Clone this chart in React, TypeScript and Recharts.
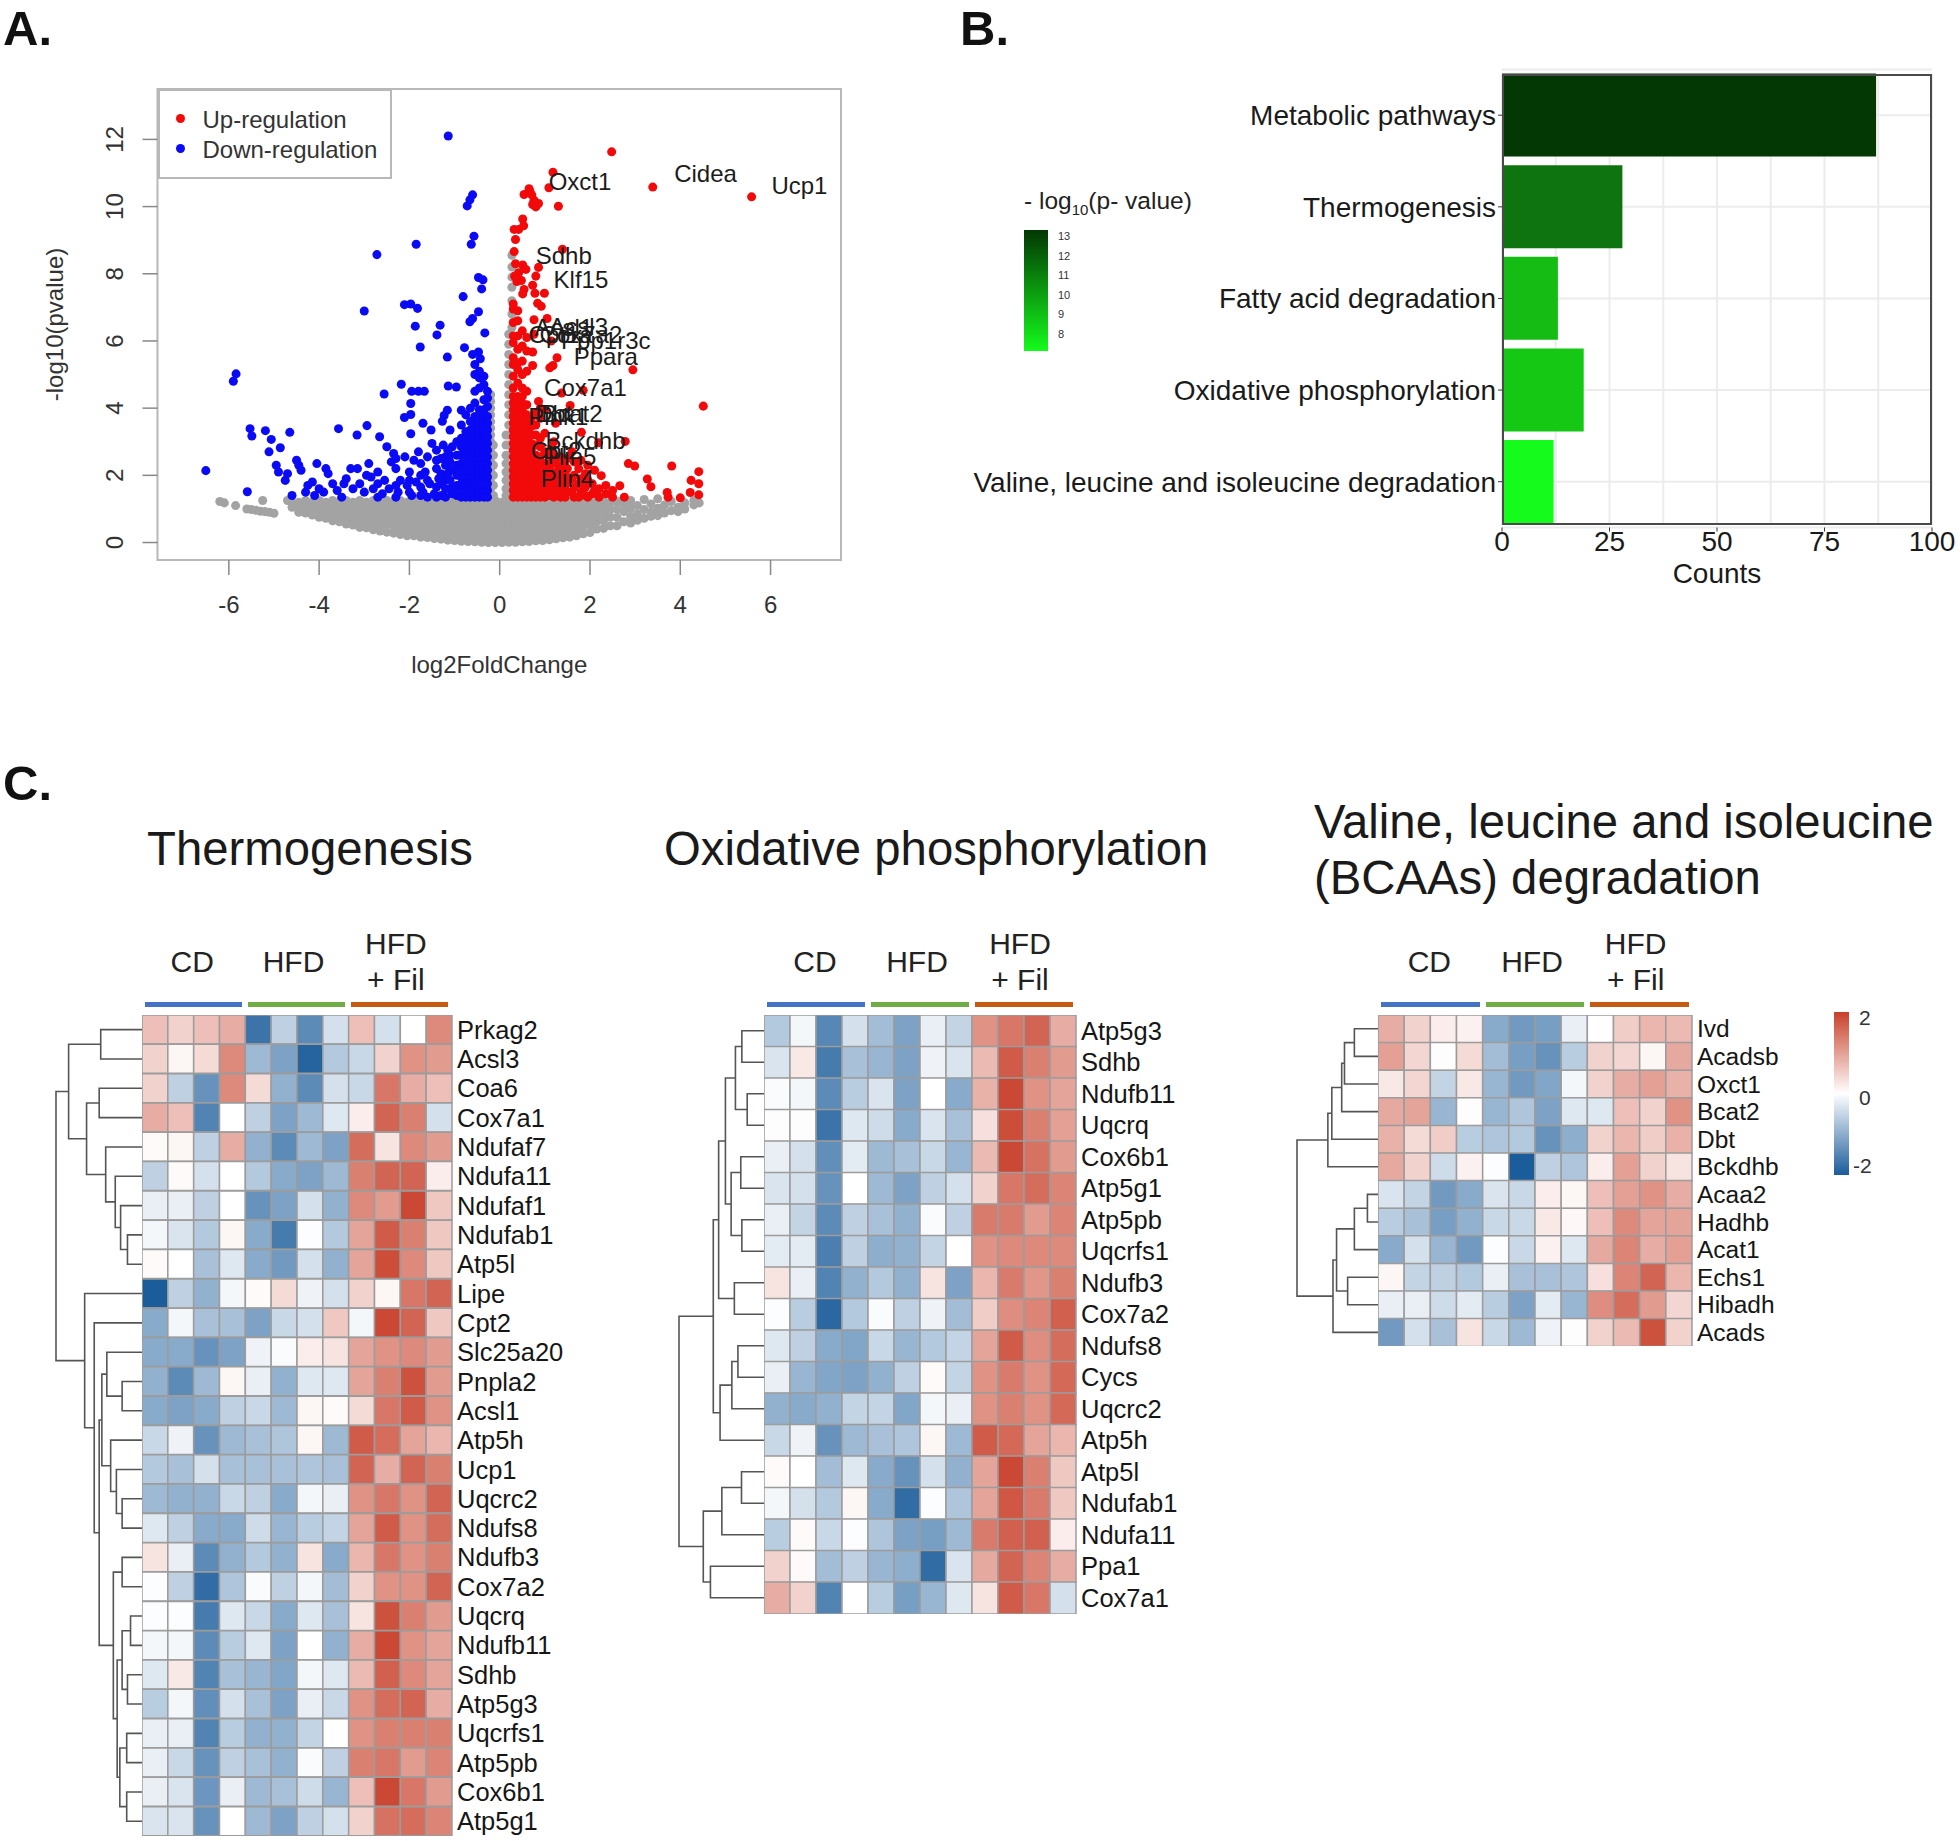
import {
  Bar,
  BarChart,
  CartesianGrid,
  Cell,
  ReferenceArea,
  Scatter,
  ScatterChart,
  XAxis,
  YAxis,
  ZAxis,
} from 'recharts'

const FONT = '"Liberation Sans", Arial, sans-serif'

// ---- A. volcano, values: each column is [x, y, y, y...]
const greyColumns = [
  [-6.2, 1.22], [-6.1, 1.18], [-5.85, 1.1], [-5.6, 1.0], [-5.5, 0.98], [-5.4, 0.96], [-5.3, 0.93], [-5.25, 1.25], [-5.2, 0.92],
  [-5.1, 0.9], [-5.0, 0.87], [-4.7, 1.25],
  [-4.6, 1.2, 1.05], [-4.45, 1.2, 1.0, 0.9], [-4.3, 1.25, 1.05, 0.88], [-4.15, 1.2, 1.02, 0.82], [-4.0, 1.25, 1.08, 0.9, 0.75],
  [-3.85, 1.2, 1.0, 0.8, 0.72], [-3.7, 1.25, 1.08, 0.9, 0.72, 0.65], [-3.55, 1.2, 1.0, 0.82, 0.62], [-3.4, 1.25, 1.08, 0.9, 0.72, 0.55],
  [-3.25, 1.2, 1.02, 0.84, 0.66, 0.52], [-3.1, 1.25, 1.07, 0.9, 0.72, 0.55, 0.45], [-2.95, 1.2, 1.0, 0.82, 0.64, 0.44],
  [-2.8, 1.25, 1.08, 0.9, 0.72, 0.54, 0.38], [-2.65, 1.2, 1.02, 0.84, 0.66, 0.48, 0.34], [-2.5, 1.25, 1.07, 0.89, 0.71, 0.53, 0.31],
  [-2.35, 1.2, 1.02, 0.84, 0.66, 0.48, 0.28], [-2.2, 1.25, 1.06, 0.88, 0.7, 0.52, 0.36, 0.24], [-2.05, 1.2, 1.02, 0.84, 0.66, 0.48, 0.32, 0.2],
  [-1.9, 1.26, 1.08, 0.9, 0.72, 0.54, 0.36, 0.2], [-1.75, 1.2, 1.02, 0.84, 0.66, 0.48, 0.3, 0.16], [-1.6, 1.25, 1.07, 0.89, 0.71, 0.53, 0.35, 0.15],
  [-1.45, 1.2, 1.02, 0.84, 0.66, 0.48, 0.3, 0.12], [-1.3, 1.26, 1.08, 0.9, 0.72, 0.54, 0.36, 0.22, 0.1], [-1.15, 1.2, 1.02, 0.84, 0.66, 0.48, 0.3, 0.16, 0.07],
  [-1.0, 1.25, 1.07, 0.89, 0.71, 0.53, 0.35, 0.19, 0.06], [-0.85, 1.2, 1.02, 0.84, 0.66, 0.48, 0.3, 0.14, 0.04],
  [-0.7, 1.25, 1.07, 0.89, 0.71, 0.53, 0.35, 0.17, 0.03], [-0.55, 1.2, 1.02, 0.84, 0.66, 0.48, 0.3, 0.13, 0.02],
  [-0.4, 1.25, 1.07, 0.89, 0.71, 0.53, 0.35, 0.17, 0.01], [-0.25, 1.2, 1.02, 0.84, 0.66, 0.48, 0.3, 0.12, 0.0],
  [-0.1, 1.25, 1.07, 0.89, 0.71, 0.53, 0.35, 0.17, 0.0], [0.05, 1.2, 1.02, 0.84, 0.66, 0.48, 0.3, 0.12, 0.0],
  [0.2, 1.25, 1.07, 0.89, 0.71, 0.53, 0.35, 0.17, 0.01], [0.35, 1.2, 1.02, 0.84, 0.66, 0.48, 0.3, 0.12, 0.01],
  [0.5, 1.25, 1.07, 0.89, 0.71, 0.53, 0.35, 0.17, 0.02], [0.65, 1.2, 1.02, 0.84, 0.66, 0.48, 0.3, 0.12, 0.03],
  [0.8, 1.25, 1.07, 0.89, 0.71, 0.53, 0.35, 0.17, 0.05], [0.95, 1.2, 1.02, 0.84, 0.66, 0.48, 0.3, 0.13, 0.06],
  [1.1, 1.25, 1.07, 0.89, 0.71, 0.53, 0.35, 0.18, 0.08], [1.25, 1.2, 1.02, 0.84, 0.66, 0.48, 0.3, 0.11], [1.4, 1.25, 1.07, 0.89, 0.71, 0.53, 0.35, 0.14],
  [1.55, 1.2, 1.02, 0.84, 0.66, 0.48, 0.3, 0.16], [1.7, 1.25, 1.07, 0.89, 0.71, 0.53, 0.35, 0.2], [1.85, 1.2, 1.02, 0.84, 0.66, 0.48, 0.26],
  [2.0, 1.25, 1.07, 0.89, 0.71, 0.53, 0.3], [2.15, 1.2, 1.0, 0.82, 0.62, 0.4], [2.3, 1.25, 1.05, 0.85, 0.65, 0.42], [2.45, 1.18, 0.98, 0.76, 0.5],
  [2.6, 1.22, 1.0, 0.75, 0.5], [2.75, 1.15, 0.92, 0.62], [2.9, 1.25, 1.02, 0.78, 0.58], [3.05, 1.1, 0.85, 0.66], [3.2, 1.28, 0.98, 0.72],
  [3.35, 1.15, 0.9, 0.78], [3.5, 1.3, 1.02, 0.8], [3.65, 1.12, 0.88], [3.8, 1.22, 0.95], [3.95, 1.05, 0.92], [4.1, 1.18, 1.0], [4.3, 1.25, 1.12], [4.42, 1.18],
  [-0.2, 1.4, 1.6, 1.8, 2.0, 2.2, 2.4, 2.6, 2.8, 3.0, 3.2, 3.4, 3.6, 3.8, 4.0, 4.2, 4.4],
  [-0.14, 1.4, 1.7, 2.0, 2.3, 2.6, 2.9],
  [0.14, 1.4, 1.6, 1.85, 2.1, 2.35, 2.6, 2.9, 3.2],
  [0.2, 1.4, 1.7, 2.0, 2.3, 2.6, 2.9, 3.2, 3.5, 3.8, 4.1, 4.4, 4.7, 5.0, 5.3, 5.6, 5.9, 6.2],
  [0.27, 6.4, 6.8, 7.2, 7.6, 7.9, 8.2, 8.55],
]

const blueColumns = [
  [-2.7, 1.35, 1.75], [-2.3, 1.35, 1.7, 2.2], [-2.0, 1.5, 1.85], [-1.75, 1.4, 1.65, 2.0], [-1.6, 1.35, 1.85],
  [-1.4, 1.35, 1.65, 2.45, 2.75], [-1.3, 1.4, 1.75, 2.05], [-1.2, 1.35, 1.85, 2.3, 2.55], [-1.1, 1.6, 2.15, 2.6],
  [-0.95, 1.4, 1.7, 2.0, 2.3, 2.6, 3.0],
  [-0.85, 1.35, 1.55, 1.75, 1.95, 2.15, 2.35, 2.6, 2.85, 3.1, 3.5],
  [-0.75, 1.35, 1.55, 1.75, 1.95, 2.15, 2.35, 2.55, 2.75, 2.95, 3.15, 3.3, 3.8],
  [-0.65, 1.35, 1.55, 1.75, 1.95, 2.15, 2.35, 2.55, 2.75, 2.95, 3.15, 3.35, 3.6, 4.0],
  [-0.55, 1.35, 1.55, 1.75, 1.95, 2.15, 2.35, 2.55, 2.75, 2.95, 3.15, 3.35, 3.55, 3.75, 4.15, 4.5, 5.0, 5.3],
  [-0.45, 1.35, 1.55, 1.75, 1.95, 2.15, 2.35, 2.55, 2.75, 2.95, 3.15, 3.35, 3.55, 3.75, 3.95, 4.6, 4.9, 5.1],
  [-0.35, 1.35, 1.55, 1.75, 1.95, 2.15, 2.35, 2.55, 2.75, 2.95, 3.15, 3.35, 3.55, 3.75, 3.95, 4.25, 4.7, 4.95],
  [-0.27, 1.35, 1.55, 1.75, 1.95, 2.15, 2.35, 2.55, 2.75, 2.95, 3.15, 3.35, 3.55, 3.75, 4.05, 4.3, 4.5],
]
const blueX = [
  -1.14, -0.6, -0.66, -0.72, -0.57, -0.63, -1.85, -2.72, -0.47, -0.37, -0.4, -0.81, -2.11, -1.97, -1.82, -3.0, -0.47, -0.6, -0.66,
  -1.87, -1.32, -1.39, -0.33, -1.76, -0.78, -1.16, -0.6, -0.47, -0.43, -5.9, -5.84, -2.18, -2.56, -1.95, -1.8, -1.67, -1.14, -0.96,
  -1.97, -1.16, -0.85, -1.23, -1.97, -2.11, -1.7, -1.27, -3.57, -2.94, -3.16, -5.53, -5.49, -5.19, -4.65, -5.06, -4.86, -5.11, -2.66,
  -1.97, -1.52, -1.1, -6.51, -5.59,
  -4.95, -4.9, -4.7, -4.75, -4.6, -4.5, -4.45, -4.4, -4.3, -4.25, -4.15, -4.1, -4.0, -4.05, -3.9, -3.85, -3.8, -3.7, -3.6, -3.5, -3.4,
  -3.45, -3.3, -3.25, -3.15, -3.1, -3.0, -2.95, -2.9, -2.85, -2.8, -2.7, -2.6, -2.55, -2.5, -2.45, -2.4, -2.35, -2.3, -2.25, -2.2, -2.1,
  -2.05, -2.0, -1.95, -1.9, -1.85, -1.8, -1.75, -1.7, -1.65, -1.6, -1.55, -1.5, -1.45, -1.4, -1.35, -1.3, -1.25, -1.2, -1.15, -1.15,
  -1.1, -1.1, -1.05, -1.05, -1.0, -1.0,
]
const blueY = [
  12.1, 10.35, 10.2, 10.02, 9.12, 8.88, 8.88, 8.57, 7.89, 7.82, 7.55, 7.32, 7.08, 7.1, 6.97, 6.89, 6.87, 6.67, 6.57,
  6.44, 6.47, 6.18, 6.24, 5.82, 5.8, 5.52, 5.6, 5.67, 5.47, 4.8, 5.02, 4.71, 4.42, 4.5, 4.5, 4.5, 4.66, 4.63,
  4.14, 3.94, 3.94, 3.78, 3.81, 3.72, 3.55, 3.61, 3.39, 3.48, 3.2, 3.39, 3.17, 3.33, 3.28, 3.07, 2.82, 2.7, 3.15,
  3.24, 3.35, 3.35, 2.14, 1.51,
  2.3, 2.1, 2.05, 1.85, 1.4, 2.45, 2.3, 2.15, 1.5, 1.7, 1.8, 1.4, 1.6, 2.35, 1.5, 2.2, 2.05, 1.75, 1.55, 1.35, 1.9,
  1.75, 2.2, 1.6, 2.2, 1.75, 1.5, 2.0, 2.35, 1.95, 1.6, 2.1, 1.45, 1.85, 2.85, 1.6, 2.4, 2.65, 2.5, 1.5, 1.85, 2.55,
  1.7, 2.1, 1.4, 2.45, 1.8, 2.7, 2.35, 1.5, 2.1, 2.55, 1.75, 2.95, 1.45, 2.2, 1.9, 2.5, 2.9, 1.6, 2.05, 2.75,
  1.85, 2.4, 1.45, 2.85, 2.15, 1.65,
]

const redColumns = [
  [0.3, 1.35, 1.55, 1.75, 1.95, 2.15, 2.35, 2.55, 2.75, 2.95, 3.15, 3.35, 3.55, 3.75, 3.95, 4.15, 4.35, 4.6, 4.95, 5.3, 5.5, 5.95, 6.15, 6.55, 6.95, 7.1],
  [0.4, 1.35, 1.55, 1.75, 1.95, 2.15, 2.35, 2.55, 2.75, 2.95, 3.15, 3.35, 3.55, 3.75, 3.95, 4.15, 4.35, 4.75, 5.15, 5.35, 5.75, 6.15, 6.6, 6.9],
  [0.5, 1.35, 1.55, 1.75, 1.95, 2.15, 2.35, 2.55, 2.75, 2.95, 3.15, 3.35, 3.55, 3.75, 3.95, 4.15, 4.35, 4.6, 5.0, 5.4, 5.85, 6.3],
  [0.6, 1.35, 1.55, 1.75, 1.95, 2.15, 2.35, 2.55, 2.75, 2.95, 3.15, 3.35, 3.55, 3.8, 4.1, 4.5, 5.1, 5.7, 6.1],
  [0.7, 1.35, 1.55, 1.75, 1.95, 2.15, 2.35, 2.55, 2.75, 2.95, 3.2, 3.45, 3.7],
  [0.8, 1.35, 1.55, 1.75, 1.95, 2.15, 2.35, 2.6, 2.9, 3.2, 3.5, 3.85],
  [0.9, 1.35, 1.55, 1.8, 2.05, 2.3, 2.55, 2.85, 3.1, 3.7, 4.0],
  [1.0, 1.35, 1.6, 1.85, 2.1, 2.35, 2.7, 3.25, 3.95],
  [1.1, 1.4, 1.7, 2.0, 2.25, 2.6],
  [1.15, 1.5, 1.8, 2.1, 2.4, 2.8],
  [1.2, 1.35, 1.6, 1.95, 2.6, 3.0],
  [1.25, 1.4, 1.75, 2.05, 2.35],
  [1.3, 1.45, 1.8, 2.15],
  [1.35, 1.35, 1.6, 1.9, 2.2, 2.55],
  [1.45, 1.35, 1.7, 2.05],
  [1.5, 1.5, 1.85, 2.2, 2.5],
  [1.6, 1.5, 1.9, 2.7],
  [1.65, 1.35, 1.65, 2.0, 2.4],
  [1.75, 1.35, 1.75, 2.2],
  [1.8, 1.5, 1.9, 2.45],
  [1.9, 1.4, 1.65, 2.05],
  [1.95, 1.35, 1.85, 2.3],
  [2.05, 1.45, 1.75],
  [2.1, 1.55, 2.15],
  [2.2, 1.35, 1.6],
  [2.35, 1.45, 1.7],
  [2.5, 1.35, 1.55],
]
const redX = [
  2.48, 1.18, 1.09, 3.39, 5.58, 1.3, 0.54, 0.65, 0.71, 0.76, 0.73, 0.86, 0.8, 0.67, 0.51, 0.53, 0.42, 0.32, 0.35, 0.32, 1.39,
  0.35, 0.51, 0.58, 0.86, 0.8, 0.42, 0.33, 0.48, 0.38, 0.73, 0.54, 0.51, 0.78, 0.99, 0.92, 0.84,
  0.76, 1.05, 0.76, 1.14, 1.27, 1.18, 1.11, 2.95, 0.73, 0.73, 1.85, 1.37, 4.51, 1.56, 0.86, 1.24, 1.81, 2.19, 2.78, 1.43, 2.85, 2.99,
  3.81, 4.41, 3.27, 2.25, 4.24, 4.41, 3.35, 2.66, 4.22, 4.41, 3.71, 3.73, 2.76, 4.0,
]
const redY = [
  11.63, 11.02, 10.56, 10.58, 10.29, 10.01, 10.36, 10.53, 10.35, 10.19, 10.06, 10.09, 9.99, 10.45, 9.63, 9.43, 9.32, 9.32, 9.02, 8.66, 8.73,
  8.3, 8.26, 8.13, 8.19, 7.93, 8.03, 7.93, 7.8, 7.77, 7.66, 7.53, 7.4, 7.42, 7.42, 7.03, 7.12,
  6.63, 6.67, 6.2, 6.0, 5.5, 5.27, 5.2, 5.14, 5.67, 5.27, 4.53, 4.45, 4.06, 4.08, 4.2, 3.55, 3.28, 2.97, 3.01, 2.35, 2.35, 2.28,
  2.28, 2.11, 1.89, 1.99, 1.85, 1.75, 1.66, 1.69, 1.49, 1.42, 1.49, 1.35, 1.35, 1.33,
]

const geneNames = ['Oxct1', 'Cidea', 'Ucp1', 'Sdhb', 'Klf15', 'Acsl1', 'Acsl3', 'Cpt1a', 'Cox7a2', 'Ppp1r3c', 'Ppara', 'Cox7a1', 'Bcat2', 'Dbt', 'Pink1', 'Bckdhb', 'Cpt2', 'Plin5', 'Plin4']
const geneX = [1.78, 4.56, 6.64, 1.42, 1.8, 1.42, 1.75, 1.35, 1.8, 2.35, 2.35, 1.9, 1.6, 1.2, 1.3, 1.9, 1.25, 1.55, 1.5]
const geneY = [10.74, 10.97, 10.63, 8.55, 7.84, 6.4, 6.42, 6.2, 6.2, 6.0, 5.55, 4.6, 3.85, 3.85, 3.75, 3.05, 2.75, 2.55, 1.9]

const volcanoXTicks = [-6, -4, -2, 0, 2, 4, 6]
const volcanoYTicks = [0, 2, 4, 6, 8, 10, 12]

const fromColumns = (cols: number[][]) => cols.flatMap(([x, ...ys]) => ys.map((y) => ({ x, y })))
const zip = (xs: number[], ys: number[]) => xs.map((x, i) => ({ x, y: ys[i] }))

const greyPoints = fromColumns(greyColumns)
const bluePoints = [...fromColumns(blueColumns), ...zip(blueX, blueY)]
const redPoints = [...fromColumns(redColumns), ...zip(redX, redY)]
const genePoints = geneNames.map((name, i) => ({ name, x: geneX[i], y: geneY[i] }))

// ---- B. pathway counts
const pathways = ['Metabolic pathways', 'Thermogenesis', 'Fatty acid degradation', 'Oxidative phosphorylation', 'Valine, leucine and isoleucine degradation']
const pathwayCounts = [87, 28, 13, 19, 12]
const pathwayColors = ['#033703', '#0e7410', '#14bc14', '#14c814', '#14fb1c']
const pathwayData = pathways.map((name, i) => ({ name, count: pathwayCounts[i] }))
const countTicks = [0, 25, 50, 75, 100]
const pLegendTicks = [13, 12, 11, 10, 9, 8]

// ---- C. heatmaps
const thermoGenes = ['Prkag2', 'Acsl3', 'Coa6', 'Cox7a1', 'Ndufaf7', 'Ndufa11', 'Ndufaf1', 'Ndufab1', 'Atp5l', 'Lipe', 'Cpt2', 'Slc25a20', 'Pnpla2', 'Acsl1', 'Atp5h', 'Ucp1', 'Uqcrc2', 'Ndufs8', 'Ndufb3', 'Cox7a2', 'Uqcrq', 'Ndufb11', 'Sdhb', 'Atp5g3', 'Uqcrfs1', 'Atp5pb', 'Cox6b1', 'Atp5g1']
const thermoValues = [
  [0.7, 0.5, 0.7, 0.9, -1.8, -0.6, -1.5, -0.4, 0.7, -0.4, 0, 1.3],
  [0.5, 0.1, 0.4, 1.3, -0.9, -1.2, -2, -0.7, -0.5, 0.5, 1.2, 1.1],
  [0.5, -0.6, -1.4, 1.3, 0.4, -1, -1.5, -0.4, -0.5, 1.5, 0.9, 0.7],
  [0.9, 0.7, -1.6, 0, -0.6, -1.2, -0.9, -0.3, 0.2, 1.7, 1.4, -0.4],
  [0.05, 0.1, -0.6, 0.9, -1, -1.5, -0.9, -1.2, 1.6, 0.3, 1.3, 1.1],
  [-0.6, 0.05, -0.4, 0, -0.7, -1.1, -1.2, -0.9, 1.4, 1.7, 1.7, 0.2],
  [-0.2, -0.2, -0.6, 0, -1.4, -1.2, -0.4, -1, 1.3, 1.1, 2, 0.6],
  [-0.1, -0.35, -0.7, 0.1, -1.1, -1.7, -0.03, -0.7, 1, 1.8, 1.4, 0.6],
  [0.05, 0, -0.8, -0.3, -1.1, -1.3, -0.4, -1, 1, 1.95, 1.3, 0.6],
  [-2.2, -0.6, -1, -0.1, 0.05, 0.4, -0.15, -0.4, 0.5, 0.1, 1.5, 1.7],
  [-1.1, -0.1, -0.8, -0.8, -1.2, -0.5, -0.4, 0.6, -0.1, 2, 1.7, 0.6],
  [-1.1, -1.1, -1.4, -1.2, -0.15, -0.05, 0.2, 0.3, 1, 1.2, 1.3, 1.1],
  [-1, -1.5, -0.9, 0.1, -0.2, -1, -0.3, -0.3, 1, 1.4, 1.9, 1.1],
  [-1.1, -1.2, -1.1, -0.6, -0.5, -0.9, 0.1, 0.05, 0.4, 1.5, 1.8, 1.2],
  [-0.5, -0.15, -1.4, -0.9, -0.8, -0.75, 0.1, -0.9, 1.8, 1.6, 1, 0.8],
  [-0.7, -0.8, -0.4, -0.8, -0.8, -0.8, -0.75, -0.8, 1.7, 0.9, 1.7, 1.4],
  [-0.9, -1, -1, -0.5, -0.6, -1.1, -0.1, -0.2, 1.2, 1.5, 1.2, 1.7],
  [-0.3, -0.6, -1.1, -1.1, -0.45, -0.95, -0.65, -0.55, 1, 1.8, 1.2, 1.6],
  [0.3, -0.2, -1.5, -1, -0.7, -1, 0.3, -1.1, 0.8, 1.5, 1.2, 1.4],
  [-0.03, -0.6, -1.9, -0.75, -0.05, -0.6, -0.1, -0.85, 0.5, 1.2, 1.2, 1.7],
  [-0.03, -0.03, -1.7, -0.3, -0.5, -1.1, -0.3, -0.8, 0.3, 1.9, 1.4, 1.1],
  [-0.1, -0.1, -1.5, -0.65, -0.3, -1.2, 0, -1, 0.9, 2, 1.2, 1],
  [-0.3, 0.25, -1.6, -0.8, -0.95, -1.15, -0.1, -0.3, 0.75, 1.75, 1.3, 1],
  [-0.65, -0.1, -1.45, -0.4, -0.8, -1.2, -0.2, -0.5, 1.2, 1.6, 1.7, 0.9],
  [-0.2, -0.2, -1.6, -0.65, -1, -1, -0.55, 0, 1.2, 1.4, 1.4, 1.4],
  [-0.2, -0.5, -1.4, -0.6, -0.8, -1, -0.05, -0.6, 1.4, 1.5, 1.1, 1.35],
  [-0.2, -0.35, -1.35, -0.2, -0.9, -0.8, -0.45, -0.95, 0.7, 2, 1.5, 1.1],
  [-0.35, -0.35, -1.4, 0, -0.9, -1.2, -0.6, -0.4, 0.5, 1.55, 1.6, 1.35],
]
// trees are [merge height, left, right], a plain number is a row
const thermoTree = [225,
  [192, [108, 0, 1], [145, [112, 2, 3], [95, 4, [70, 5, [56, 6, [38, 7, 8]]]]]],
  [150, 9, [125, 10, [112,
    [105, [92, 11, [52, 12, 13]], [82, 14, [67, 15, [52, 16, 17]]]],
    [75, [52, 18, 19], [65, [52, [30, 20, 21], [38, 22, 23]], [58, [40, 24, 25], [40, 26, 27]]]],
  ]]],
]

const oxphosGenes = ['Atp5g3', 'Sdhb', 'Ndufb11', 'Uqcrq', 'Cox6b1', 'Atp5g1', 'Atp5pb', 'Uqcrfs1', 'Ndufb3', 'Cox7a2', 'Ndufs8', 'Cycs', 'Uqcrc2', 'Atp5h', 'Atp5l', 'Ndufab1', 'Ndufa11', 'Ppa1', 'Cox7a1']
const oxphosValues = [
  [-0.7, -0.1, -1.55, -0.4, -0.85, -1.2, -0.2, -0.55, 1.2, 1.5, 1.7, 0.9],
  [-0.35, 0.25, -1.7, -0.8, -0.95, -1.2, -0.15, -0.35, 0.75, 1.8, 1.4, 1.1],
  [-0.05, -0.1, -1.5, -0.65, -0.35, -1.2, 0, -1.1, 0.85, 2, 1.2, 1],
  [-0.02, -0.02, -1.8, -0.3, -0.45, -1.1, -0.35, -0.8, 0.35, 1.95, 1.4, 1.05],
  [-0.2, -0.4, -1.45, -0.25, -0.9, -0.8, -0.5, -0.95, 0.75, 2, 1.55, 1.1],
  [-0.35, -0.4, -1.4, 0, -0.9, -1.2, -0.6, -0.4, 0.5, 1.5, 1.6, 1.35],
  [-0.2, -0.55, -1.5, -0.6, -0.8, -1, -0.05, -0.6, 1.45, 1.45, 1.1, 1.35],
  [-0.25, -0.25, -1.65, -0.6, -1.05, -1, -0.55, 0, 1.2, 1.3, 1.3, 1.3],
  [0.3, -0.2, -1.6, -1, -0.7, -1, 0.3, -1.2, 0.8, 1.45, 1.15, 1.4],
  [-0.03, -0.65, -1.95, -0.7, -0.05, -0.6, -0.15, -0.85, 0.55, 1.25, 1.35, 1.75],
  [-0.3, -0.6, -1.1, -1.15, -0.5, -0.95, -0.7, -0.55, 1, 1.8, 1.25, 1.6],
  [-0.2, -0.95, -1.15, -1.2, -1, -0.6, 0.05, -0.55, 1.2, 1.45, 1.2, 1.65],
  [-1, -1.1, -1, -0.55, -0.55, -1.15, -0.1, -0.2, 1.2, 1.4, 1.2, 1.65],
  [-0.5, -0.15, -1.4, -0.9, -0.8, -0.75, 0.1, -0.9, 1.8, 1.65, 1, 0.8],
  [0.05, 0, -0.85, -0.3, -1.1, -1.4, -0.4, -1, 1, 2, 1.4, 0.6],
  [-0.1, -0.4, -0.7, 0.1, -1.1, -1.9, -0.03, -0.75, 1, 1.85, 1.45, 0.6],
  [-0.65, 0.05, -0.5, -0.03, -0.75, -1.2, -1.25, -0.9, 1.45, 1.75, 1.75, 0.2],
  [0.5, 0.05, -0.85, -0.6, -0.95, -1.05, -1.9, -0.35, 0.95, 1.7, 1.35, 0.9],
  [0.9, 0.5, -1.6, 0, -0.65, -1.25, -0.95, -0.3, 0.3, 1.8, 1.5, -0.4],
]
const oxphosTree = [238,
  [142,
    [127, [108, [80, [62, 0, 1], [47, 2, 3]], [92, [65, 4, 5], [62, 6, 7]]], [83, 8, 9]],
    [123, [90, [73, 10, 11], 12], 13],
  ],
  [170, [118, [63, 14, 15], 16], [150, 17, 18]],
]

const bcaaGenes = ['Ivd', 'Acadsb', 'Oxct1', 'Bcat2', 'Dbt', 'Bckdhb', 'Acaa2', 'Hadhb', 'Acat1', 'Echs1', 'Hibadh', 'Acads']
const bcaaValues = [
  [0.9, 0.5, 0.2, 0.15, -1.1, -1.3, -1.25, -0.2, 0, 0.55, 0.8, 0.75],
  [1.05, 0.45, 0.02, 0.4, -0.85, -1.25, -1.4, -0.65, 0.5, 0.45, 0.1, 0.95],
  [0.25, 0.45, -0.55, 0.25, -0.95, -1.3, -1.15, -0.1, 0.5, 0.9, 1.05, 0.85],
  [0.95, 1, -0.95, 0.03, -0.95, -0.75, -1.2, -0.3, -0.3, 0.7, 0.5, 1.2],
  [0.85, 0.4, 0.55, -0.65, -0.75, -0.7, -1.4, -1.05, 0.5, 0.8, 0.55, 0.85],
  [0.95, 0.5, -0.45, 0.15, -0.03, -2.1, -0.6, -0.75, 0.2, 1.05, 0.5, 0.3],
  [-0.35, -0.55, -1.3, -1.1, -0.35, -0.5, 0.2, 0.1, 0.7, 1.05, 1.2, 0.9],
  [-0.65, -0.8, -1.25, -1, -0.5, -0.5, 0.25, 0.08, 0.7, 1.3, 1, 1],
  [-1.1, -0.4, -0.95, -1.3, -0.03, -0.5, 0.15, -0.3, 0.95, 1.35, 0.9, 1.05],
  [0.1, -0.55, -0.6, -0.7, -0.2, -0.8, -0.8, -0.75, 0.35, 1.35, 1.7, 0.8],
  [-0.2, -0.2, -0.45, -0.25, -0.65, -1.2, -0.25, -0.95, 1.25, 1.6, 1.1, 0.45],
  [-1.3, -0.4, -0.8, 0.3, -0.5, -0.9, -0.15, -0.02, 0.5, 0.75, 1.9, 0.5],
]
const bcaaTree = [206,
  [128, [118, [93, [86, [61, 0, 1], 2], 3], 4], 5],
  [115, [106, [61, [28, 6, 7], 8], [78, 9, 10]], 11],
]

const groupColors = ['#4472c4', '#70ad47', '#c55a11']
const groupShift = [-1, -3, -4]
const sampleCols = [0, 1, 2, 3, 4, 5, 6, 7, 8, 9, 10, 11]

const HEAT_TOP = 1015
const HIGH = [200, 64, 42]
const LOW = [27, 92, 155]

function heatColor(v: number) {
  const t = Math.min(Math.abs(v) / 2.1, 1)
  const end = v > 0 ? HIGH : LOW
  const c = end.map((e) => Math.round(255 + (e - 255) * t))
  return `rgb(${c[0]},${c[1]},${c[2]})`
}

// walks a tree into elbow links in (height, row) space
function treeLinks(node: any, links: any[] = []) {
  if (typeof node === 'number') return { h: 0, y: node + 0.5, links }
  const [h, l, r] = node
  const a = treeLinks(l, links)
  const b = treeLinks(r, links)
  links.push([
    { x: a.h, y: a.y },
    { x: h, y: a.y },
    { x: h, y: b.y },
    { x: b.h, y: b.y },
  ])
  return { h, y: (a.y + b.y) / 2, links }
}

const NoDot = () => <g />

function Dendrogram({ tree, rows, width, height }: any) {
  const { links } = treeLinks(tree)
  return (
    <ScatterChart width={width + 2} height={height} margin={{ top: 0, right: 0, bottom: 0, left: 2 }}>
      <XAxis type="number" dataKey="x" hide reversed domain={[0, tree[0]]} />
      <YAxis type="number" dataKey="y" hide reversed domain={[0, rows]} />
      {links.map((pts: any, i: number) => (
        <Scatter
          key={i}
          data={pts}
          line={{ stroke: '#555', strokeWidth: 1.6 }}
          shape={NoDot}
          isAnimationActive={false}
        />
      ))}
    </ScatterChart>
  )
}

function Heatmap({ genes, values, tree, left, width, rowH, dendWidth, geneFont }: any) {
  const height = rowH * genes.length
  const table = genes.map((gene: string) => {
    const row: any = { gene }
    sampleCols.forEach((c) => (row[`s${c}`] = 1))
    return row
  })
  return (
    <>
      <div style={{ position: 'absolute', left: left - dendWidth - 2, top: HEAT_TOP }}>
        <Dendrogram tree={tree} rows={genes.length} width={dendWidth} height={height} />
      </div>
      <div style={{ position: 'absolute', left, top: HEAT_TOP }}>
        <BarChart
          layout="vertical"
          width={width + 130}
          height={height}
          data={table}
          margin={{ top: 0, right: 0, bottom: 0, left: 0 }}
          barCategoryGap={0}
        >
          <XAxis type="number" hide domain={[0, 12]} />
          <YAxis
            type="category"
            dataKey="gene"
            orientation="right"
            width={130}
            interval={0}
            axisLine={false}
            tickLine={false}
            tickMargin={0}
            tickSize={5}
            tick={{ fontSize: geneFont, fill: '#161616', fontFamily: FONT }}
          />
          {sampleCols.map((c) => (
            <Bar key={c} dataKey={`s${c}`} stackId="heat" isAnimationActive={false}>
              {values.map((row: number[], i: number) => (
                <Cell key={i} fill={heatColor(row[c])} stroke="#9c9c9c" strokeWidth={1.5} />
              ))}
            </Bar>
          ))}
        </BarChart>
      </div>
      {groupColors.map((color, i) => {
        const w = width / 3
        const gx = left + w * i
        const cx = gx + w / 2 + groupShift[i]
        return (
          <div key={color}>
            <div style={{ position: 'absolute', left: gx + 3, width: w - 6, top: 1002, height: 5, background: color }} />
            {i < 2 ? (
              <div style={{ ...centerText(cx, 962), fontSize: 30 }}>{i === 0 ? 'CD' : 'HFD'}</div>
            ) : (
              <>
                <div style={{ ...centerText(cx, 944), fontSize: 30 }}>HFD</div>
                <div style={{ ...centerText(cx, 980), fontSize: 30 }}>+ Fil</div>
              </>
            )}
          </div>
        )
      })}
    </>
  )
}

function centerText(x: number, y: number): any {
  return {
    position: 'absolute',
    left: x - 100,
    width: 200,
    top: y - 20,
    height: 40,
    lineHeight: '40px',
    textAlign: 'center',
    color: '#222',
  }
}

const RotatedTick = ({ x, y, payload }: any) => (
  <text transform={`translate(${x - 18} ${y}) rotate(-90)`} textAnchor="middle" fontSize={24} fill="#333" fontFamily={FONT}>
    {payload.value}
  </text>
)

const GeneLabel = ({ cx, cy, payload }: any) => (
  <text x={cx} y={cy} textAnchor="middle" dominantBaseline="central" fontSize={24} fill="#1c1c1c" fontFamily={FONT}>
    {payload.name}
  </text>
)

function Volcano() {
  return (
    <ScatterChart width={880} height={720} margin={{ top: 89, right: 39, bottom: 0, left: 0 }}>
      <XAxis
        type="number"
        dataKey="x"
        domain={[-7.58, 7.56]}
        ticks={volcanoXTicks}
        height={160}
        axisLine={false}
        tickSize={15}
        tickMargin={21}
        tickLine={{ stroke: '#888', strokeWidth: 1.5 }}
        tick={{ fontSize: 24, fill: '#333', fontFamily: FONT }}
        label={{ value: 'log2FoldChange', position: 'insideBottom', offset: 47, fontSize: 24, fill: '#333', fontFamily: FONT }}
      />
      <YAxis
        type="number"
        dataKey="y"
        domain={[-0.52, 13.5]}
        ticks={volcanoYTicks}
        width={157.5}
        axisLine={false}
        tickSize={15}
        tickLine={{ stroke: '#888', strokeWidth: 1.5 }}
        tick={RotatedTick}
        label={{ value: '-log10(pvalue)', angle: -90, position: 'insideLeft', offset: 54, textAnchor: 'middle', fontSize: 24, fill: '#333', fontFamily: FONT }}
      />
      <ZAxis range={[38, 38]} />
      <Scatter data={greyPoints} fill="#a3a3a3" isAnimationActive={false} />
      <Scatter data={bluePoints} fill="#0a0af5" isAnimationActive={false} />
      <Scatter data={redPoints} fill="#f20a0a" isAnimationActive={false} />
      <Scatter data={genePoints} shape={GeneLabel} isAnimationActive={false} />
      <ReferenceArea x1={-7.58} x2={7.56} y1={-0.52} y2={13.5} fill="none" stroke="#b8b8b8" strokeWidth={2} />
    </ScatterChart>
  )
}

function Pathways() {
  return (
    <BarChart
      layout="vertical"
      width={1000}
      height={600}
      data={pathwayData}
      margin={{ top: 69.4, right: 28, bottom: 0, left: 0 }}
      barCategoryGap="4.5%"
    >
      <CartesianGrid y={74} height={451} stroke="#ececec" strokeWidth={2} verticalValues={[0, 12.5, 25, 37.5, 50, 62.5, 75, 87.5, 100]} />
      <XAxis
        type="number"
        domain={[0, 100]}
        ticks={countTicks}
        height={72.5}
        axisLine={false}
        tickSize={4}
        tickMargin={0}
        tickLine={{ stroke: '#333' }}
        tick={{ fontSize: 28, fill: '#1a1a1a', fontFamily: FONT }}
        label={{ value: 'Counts', position: 'insideBottom', offset: 17, fontSize: 28, fill: '#1a1a1a', fontFamily: FONT }}
      />
      <YAxis
        type="category"
        dataKey="name"
        width={542}
        interval={0}
        axisLine={false}
        tickSize={4}
        tickMargin={2}
        tickLine={{ stroke: '#333' }}
        tick={{ fontSize: 28, fill: '#1a1a1a', fontFamily: FONT, width: 560 }}
      />
      <Bar dataKey="count" isAnimationActive={false}>
        {pathwayColors.map((color) => (
          <Cell key={color} fill={color} />
        ))}
      </Bar>
    </BarChart>
  )
}

const abs = (left: number, top: number, extra: any = {}): any => ({ position: 'absolute', left, top, ...extra })
const panelLetter = { fontSize: 49, lineHeight: 'normal', fontWeight: 700, color: '#111' }
const titleStyle = { fontSize: 47.3, color: '#1a1a1a', whiteSpace: 'nowrap' }

export default function App() {
  return (
    <div style={{ position: 'absolute', left: 0, top: 0, width: 1960, height: 1841, background: '#fff', fontFamily: FONT, overflow: 'hidden' }}>
      <div style={abs(3, 0, panelLetter)}>A.</div>
      <div style={abs(960, 0, panelLetter)}>B.</div>
      <div style={abs(3, 755, panelLetter)}>C.</div>

      <div style={abs(0, 0)}>
        <Volcano />
      </div>
      <div style={abs(157.5, 89, { width: 234, height: 90, border: '2px solid #b8b8b8', background: '#fff', boxSizing: 'border-box', fontSize: 24, color: '#333' })}>
        <div style={abs(16, 23, { width: 9, height: 9, borderRadius: 5, background: '#f20a0a' })} />
        <div style={abs(43, 15)}>Up-regulation</div>
        <div style={abs(16, 53, { width: 9, height: 9, borderRadius: 5, background: '#0a0af5' })} />
        <div style={abs(43, 45)}>Down-regulation</div>
      </div>

      <div style={abs(960, 0)}>
        <Pathways />
      </div>
      <div style={abs(1502, 74, { width: 430, height: 451, border: '2px solid #4a4a4a', boxSizing: 'border-box' })} />
      <div style={abs(1024, 187, { fontSize: 24.5, color: '#222', whiteSpace: 'nowrap' })}>
        - log<sub style={{ fontSize: 15 }}>10</sub>(p- value)
      </div>
      <div style={abs(1024, 230, { width: 24, height: 121, background: 'linear-gradient(#033703, #14fb1c)' })} />
      {pLegendTicks.map((t, i) => (
        <div key={t} style={abs(1058, 230 + i * 19.6, { fontSize: 11, lineHeight: '13px', color: '#333' })}>
          {t}
        </div>
      ))}

      <div style={abs(147, 821, titleStyle)}>Thermogenesis</div>
      <div style={abs(664, 821, titleStyle)}>Oxidative phosphorylation</div>
      <div style={abs(1314, 794, titleStyle)}>Valine, leucine and isoleucine</div>
      <div style={abs(1314, 850, titleStyle)}>(BCAAs) degradation</div>

      <Heatmap genes={thermoGenes} values={thermoValues} tree={thermoTree} left={141.5} width={310} rowH={29.32} dendWidth={86} geneFont={25.5} />
      <Heatmap genes={oxphosGenes} values={oxphosValues} tree={oxphosTree} left={764} width={312} rowH={31.5} dendWidth={85} geneFont={25.5} />
      <Heatmap genes={bcaaGenes} values={bcaaValues} tree={bcaaTree} left={1378} width={314} rowH={27.6} dendWidth={81.5} geneFont={24.5} />

      <div style={abs(1834, 1012, { width: 15, height: 163, background: 'linear-gradient(#c8402a, #ffffff 50%, #1b5c9b)' })} />
      <div style={abs(1859, 1006, { fontSize: 21, color: '#333' })}>2</div>
      <div style={abs(1859, 1086, { fontSize: 21, color: '#333' })}>0</div>
      <div style={abs(1853, 1154, { fontSize: 21, color: '#333' })}>-2</div>
    </div>
  )
}
